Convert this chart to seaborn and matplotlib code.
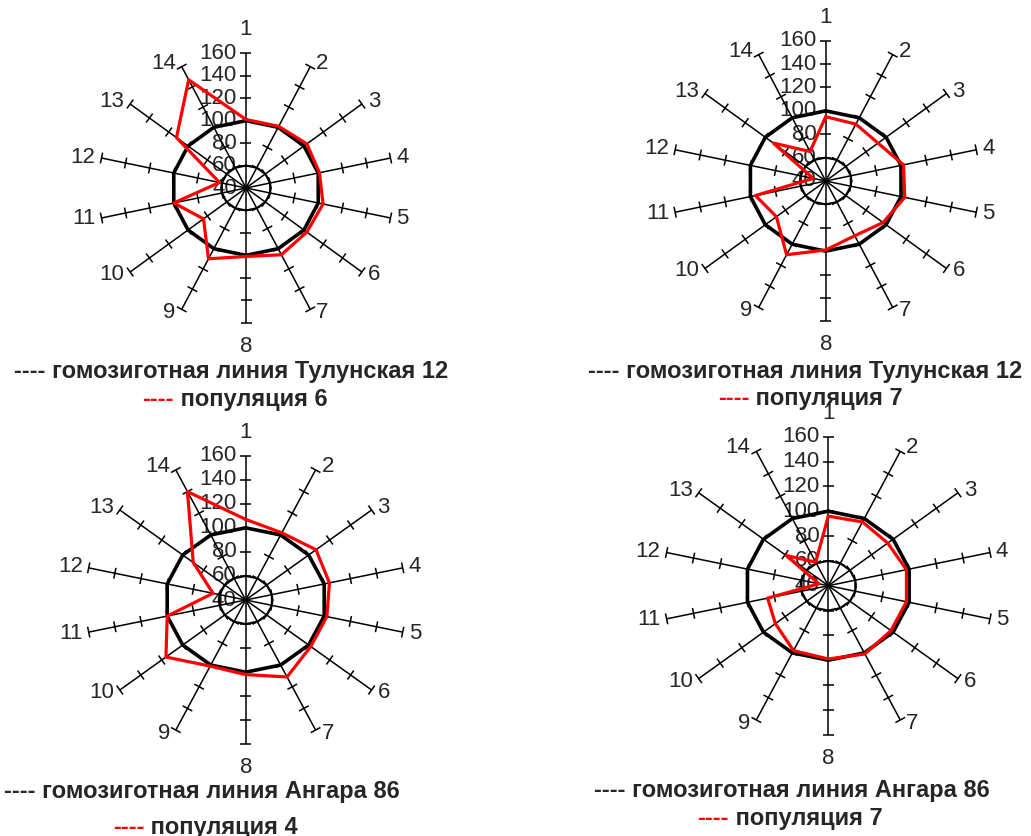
import numpy as np
import matplotlib
matplotlib.use('Agg')
import matplotlib.pyplot as plt
from matplotlib.collections import LineCollection
import seaborn as sns

# categories (14 traits) and radial scale
categories = ['1', '2', '3', '4', '5', '6', '7', '8', '9', '10', '11', '12', '13', '14']
scale_ticks = [40, 60, 80, 100, 120, 140, 160]

# homozygous line = 100 %, inner reference ring at 60
homozygous = [100, 100, 100, 100, 100, 100, 100, 100, 100, 100, 100, 100, 100, 100]
inner_ring = [60, 60, 60, 60, 60, 60, 60, 60, 60, 60, 60, 60, 60, 60]

# populations
pop_tl = [101, 101, 103, 101, 104, 103, 106, 101, 110, 84, 100, 62, 112, 147]
pop_tr = [95, 94, 92, 102, 103, 97, 92, 99, 110, 89, 96, 50, 92, 68]
pop_bl = [107, 102, 107, 104, 102, 102, 111, 102, 101, 116, 100, 65, 90, 140]
pop_br = [96, 97, 95, 98, 98, 98, 101, 99, 98, 89, 85, 47, 79, 61]

line_names = ['---- гомозиготная линия Тулунская 12', '---- гомозиготная линия Тулунская 12',
              '---- гомозиготная линия Ангара 86', '---- гомозиготная линия Ангара 86']
pop_names = [' популяция 6', ' популяция 7', ' популяция 4', ' популяция 7']

sns.set_style('white')
plt.rcParams['font.family'] = ['Liberation Sans', 'DejaVu Sans']

W, H = 1031, 836
fig = plt.figure(figsize=(W / 100, H / 100), dpi=100)
FS = 16     # axis numbers
CFS = 17    # captions

R0, R1 = scale_ticks[0], scale_ticks[-1]
L = 150
theta = np.arange(len(categories)) * 2 * np.pi / len(categories)


def to_xy(values):
    r = np.asarray(values, dtype=float) - R0
    return r * np.sin(theta), r * np.cos(theta)


def closed(a):
    return np.append(a, a[0])


def draw_radar(cx, cy, sh, sv, pop):
    # sh, sv: pixels per unit horizontally / vertically (excel plot is stretched)
    ax = fig.add_axes([(cx - L * sh) / W, 1 - (cy + L * sv) / H, 2 * L * sh / W, 2 * L * sv / H])
    ax.set_xlim(-L, L)
    ax.set_ylim(-L, L)
    ax.set_aspect('auto')
    ax.axis('off')
    ax.patch.set_alpha(0)

    ex, ey = to_xy([R1] * len(categories))
    spokes = [[(0, 0), (x, y)] for x, y in zip(ex, ey)]
    ax.add_collection(LineCollection(spokes, colors='black', linewidths=1.1, zorder=2))

    # cross ticks perpendicular to each spoke (in screen space)
    half = 5.5
    segs = []
    for t in theta:
        px, py = -np.cos(t) * sv, np.sin(t) * sh
        n = np.hypot(px, py)
        ox, oy = px / n * half / sh, py / n * half / sv
        for v in scale_ticks[1:]:
            r = v - R0
            x, y = r * np.sin(t), r * np.cos(t)
            segs.append([(x - ox, y - oy), (x + ox, y + oy)])
    ax.add_collection(LineCollection(segs, colors='black', linewidths=1.1, zorder=2))

    for v in scale_ticks:
        ax.annotate(str(v), (0, v - R0), xytext=(-9, 0), textcoords='offset pixels',
                    ha='right', va='center', fontsize=FS, zorder=1)

    for lab, x, y, t in zip(categories, ex, ey, theta):
        s, c = np.sin(t), np.cos(t)
        if abs(s) < 1e-6:
            ax.annotate(lab, (x, y), xytext=(0, 13 if c > 0 else -13), textcoords='offset pixels',
                        ha='center', va='bottom' if c > 0 else 'top', fontsize=FS)
        else:
            ax.annotate(lab, (x, y), xytext=(6 if s > 0 else -6, 4 * c), textcoords='offset pixels',
                        ha='left' if s > 0 else 'right', va='center', fontsize=FS)

    ix, iy = to_xy(inner_ring)
    sns.lineplot(x=closed(ix), y=closed(iy), sort=False, estimator=None, color='black', lw=1.5, ax=ax, zorder=3)
    hx, hy = to_xy(homozygous)
    sns.lineplot(x=closed(hx), y=closed(hy), sort=False, estimator=None, color='black', lw=2.6, ax=ax, zorder=4)
    px_, py_ = to_xy(pop)
    sns.lineplot(x=closed(px_), y=closed(py_), sort=False, estimator=None, color='#ff0000', lw=2.3, ax=ax, zorder=5)
    return ax


draw_radar(246, 188, 1.235, 1.1225, pop_tl)
draw_radar(825.7, 181, 1.287, 1.169, pop_tr)
draw_radar(245.7, 600, 1.342, 1.203, pop_bl)
draw_radar(828.3, 585.7, 1.382, 1.242, pop_br)

renderer = fig.canvas.get_renderer()
captions = []


def caption(x1, y1, x2, y2, name, pop):
    fig.text(x1 / W, 1 - y1 / H, name, ha='center', va='baseline', fontsize=CFS, fontweight='bold')
    red = fig.text(0, 1 - y2 / H, '----', ha='left', va='baseline', fontsize=CFS, fontweight='bold', color='red')
    blk = fig.text(0, 1 - y2 / H, pop, ha='left', va='baseline', fontsize=CFS, fontweight='bold')
    wr = red.get_window_extent(renderer).width
    wb = blk.get_window_extent(renderer).width
    left = x2 - (wr + wb) / 2
    red.set_x(left / W)
    blk.set_x((left + wr) / W)


caption(231, 378, 235, 406, line_names[0], pop_names[0])
caption(805.5, 378, 810.5, 405, line_names[1], pop_names[1])
caption(201.5, 798, 205.5, 834, line_names[2], pop_names[2])
caption(791.5, 797, 790, 825, line_names[3], pop_names[3])

fig.savefig('out.png', dpi=100, facecolor='white')
